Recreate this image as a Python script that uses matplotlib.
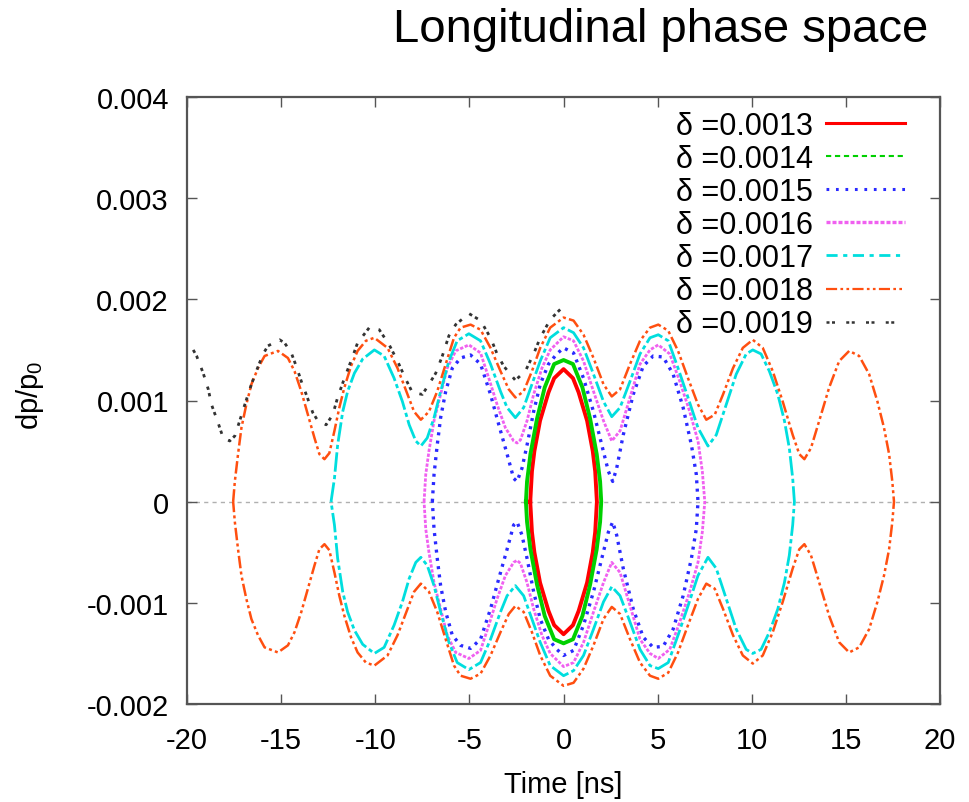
import matplotlib
matplotlib.use("Agg")
import matplotlib.pyplot as plt
import numpy as np
from matplotlib.lines import Line2D

plt.rcParams['font.family'] = ['Liberation Sans', 'DejaVu Sans']
plt.rcParams['mathtext.default'] = 'regular'

# ---- data (upper half of each contour, dp/p0 in units of 1e-3; lower half is the mirror image) ----
labels = ["δ =0.0013", "δ =0.0014", "δ =0.0015", "δ =0.0016",
          "δ =0.0017", "δ =0.0018", "δ =0.0019"]

t_0013 = [-1.77, -1.68, -1.55, -1.25, -0.8, -0.5, 0, 0.5, 0.8, 1.25, 1.55, 1.68, 1.77]
v_0013 = [0, 0.30, 0.50, 0.80, 1.08, 1.22, 1.31, 1.22, 1.08, 0.80, 0.50, 0.30, 0]

t_0014 = [-2.0, -1.94, -1.76, -1.41, -1.0, -0.5, 0, 0.5, 1.0, 1.41, 1.76, 1.94, 2.0]
v_0014 = [0, 0.20, 0.47, 0.82, 1.13, 1.36, 1.40, 1.36, 1.13, 0.82, 0.47, 0.20, 0]

t_0015 = [-6.97, -6.88, -6.71, -6.53, -6.26, -5.91, -5.47, -4.94, -4.41, -3.88, -3.44,
          -3.0, -2.65, -2.47, -2.21, -1.94, -1.59, -1.24, -0.8, -0.36, 0, 0.53, 1.06,
          1.59, 2.03, 2.38, 2.61, 2.82, 3.17, 3.7, 4.23, 4.76, 5.29, 5.82, 6.35, 6.79,
          7.05, 7.14]
v_0015 = [0, 0.27, 0.56, 0.83, 1.09, 1.32, 1.42, 1.45, 1.36, 1.06, 0.76, 0.47, 0.23,
          0.20, 0.33, 0.56, 0.89, 1.16, 1.36, 1.46, 1.52, 1.47, 1.22, 0.89, 0.56, 0.30,
          0.20, 0.33, 0.66, 1.06, 1.34, 1.44, 1.43, 1.26, 0.93, 0.56, 0.27, 0]

t_0016 = [-7.41, -7.32, -7.15, -6.88, -6.53, -6.18, -5.73, -5.03, -4.41, -3.97, -3.53,
          -3.09, -2.65, -2.47, -2.29, -1.94, -1.59, -1.15, -0.71, 0, 0.53, 1.06, 1.59,
          2.12, 2.56, 3.0, 3.53, 4.06, 4.59, 5.03, 5.64, 6.17, 6.7, 7.14, 7.37, 7.5]
v_0016 = [0, 0.27, 0.50, 0.80, 1.06, 1.32, 1.49, 1.55, 1.47, 1.22, 0.96, 0.73, 0.60,
          0.58, 0.61, 0.80, 1.06, 1.32, 1.50, 1.63, 1.59, 1.39, 1.09, 0.80, 0.60, 0.70,
          1.03, 1.36, 1.50, 1.55, 1.46, 1.19, 0.89, 0.60, 0.30, 0]

t_0017 = [-12.35, -12.17, -12.0, -11.73, -11.47, -11.11, -10.67, -10.05, -9.53, -9.0,
          -8.56, -8.2, -7.85, -7.58, -7.24, -6.88, -6.53, -6.09, -5.65, -5.03, -4.41,
          -3.88, -3.35, -3.0, -2.56, -2.12, -1.68, -1.24, -0.71, 0, 0.53, 1.06, 1.59,
          2.12, 2.56, 3.0, 3.53, 4.06, 4.59, 5.03, 5.56, 6.08, 6.61, 7.14, 7.67, 8.11,
          8.64, 9.17, 9.7, 10.05, 10.49, 10.93, 11.38, 11.73, 11.99, 12.17, 12.26]
v_0017 = [0, 0.23, 0.56, 0.89, 1.09, 1.27, 1.41, 1.50, 1.44, 1.22, 0.99, 0.76, 0.60,
          0.55, 0.63, 0.83, 1.09, 1.39, 1.59, 1.66, 1.59, 1.36, 1.09, 0.93, 0.83, 0.93,
          1.16, 1.39, 1.62, 1.72, 1.67, 1.52, 1.26, 0.99, 0.84, 0.93, 1.19, 1.46, 1.62,
          1.65, 1.59, 1.32, 1.03, 0.73, 0.55, 0.66, 0.96, 1.26, 1.46, 1.50, 1.46, 1.29,
          1.06, 0.80, 0.53, 0.23, 0]

t_0018 = [-17.55, -17.46, -17.29, -17.11, -16.85, -16.58, -16.23, -15.88, -15.17, -14.64,
          -14.29, -13.93, -13.58, -13.23, -12.97, -12.7, -12.44, -12.17, -11.91, -11.64,
          -11.29, -10.94, -10.5, -10.05, -9.35, -8.82, -8.29, -7.94, -7.58, -7.15, -6.71,
          -6.26, -5.82, -5.47, -4.94, -4.41, -3.88, -3.35, -2.91, -2.56, -2.12, -1.68,
          -1.24, -0.71, 0, 0.53, 1.06, 1.59, 2.12, 2.56, 3.0, 3.53, 4.06, 4.59, 5.03,
          5.56, 6.08, 6.61, 7.14, 7.58, 8.03, 8.47, 9.0, 9.52, 10.05, 10.58, 11.11, 11.64,
          12.17, 12.52, 12.79, 13.14, 13.58, 14.11, 14.64, 15.17, 15.7, 16.23, 16.67,
          17.02, 17.29, 17.46, 17.55]
v_0018 = [0, 0.20, 0.47, 0.73, 0.96, 1.16, 1.32, 1.44, 1.49, 1.42, 1.29, 1.09, 0.86,
          0.63, 0.47, 0.42, 0.48, 0.70, 0.93, 1.13, 1.34, 1.49, 1.59, 1.62, 1.52, 1.32,
          1.06, 0.89, 0.81, 0.89, 1.09, 1.36, 1.62, 1.72, 1.75, 1.70, 1.52, 1.29, 1.11,
          1.03, 1.09, 1.29, 1.52, 1.72, 1.82, 1.79, 1.65, 1.42, 1.16, 1.04, 1.11, 1.36,
          1.59, 1.72, 1.75, 1.69, 1.49, 1.22, 0.96, 0.81, 0.86, 1.06, 1.32, 1.52, 1.60,
          1.52, 1.29, 0.99, 0.66, 0.47, 0.42, 0.53, 0.80, 1.13, 1.39, 1.49, 1.44, 1.26,
          0.99, 0.73, 0.47, 0.20, 0]

# open trajectory (upper branch only)
t_0019 = [-19.67, -19.49, -19.14, -18.87, -18.7, -18.35, -18.08, -17.73, -17.46, -17.2,
          -16.93, -16.58, -16.32, -15.96, -15.7, -15.08, -14.82, -14.46, -14.2, -13.93,
          -13.67, -13.32, -13.05, -12.61, -12.26, -12.0, -11.64, -11.29, -10.94, -10.32,
          -9.79, -9.26, -8.82, -8.38, -8.03, -7.5, -7.15, -6.79, -6.44, -6.09, -5.73,
          -5.03, -4.41, -3.88, -3.53, -3.18, -2.56, -2.03, -1.59, -1.24, -0.71, -0.18, 0.05]
v_0019 = [1.50, 1.44, 1.27, 1.11, 0.96, 0.78, 0.63, 0.60, 0.65, 0.80, 0.96, 1.16, 1.29,
          1.46, 1.54, 1.60, 1.57, 1.47, 1.34, 1.19, 1.06, 0.88, 0.80, 0.76, 0.86, 1.03,
          1.22, 1.39, 1.57, 1.72, 1.70, 1.55, 1.39, 1.21, 1.08, 1.06, 1.16, 1.27, 1.44,
          1.64, 1.75, 1.86, 1.79, 1.62, 1.46, 1.34, 1.20, 1.29, 1.46, 1.62, 1.80, 1.90, 1.92]

x_ticks = [-20, -15, -10, -5, 0, 5, 10, 15, 20]
y_ticks = [-0.002, -0.001, 0, 0.001, 0.002, 0.003, 0.004]
y_ticklabels = ["-0.002", "-0.001", "0", "0.001", "0.002", "0.003", "0.004"]

# ---- styles ----
colors = ["#ff0000", "#00d000", "#2a2aff", "#f060f0", "#00dede", "#ff4f10", "#333333"]
plot_styles = ["-", "-", (0, (0.9, 1.6)), (0, (1.2, 0.6)), (0, (7, 1.2, 1.5, 1.2)),
               (0, (5, 1.3, 1.2, 1.3, 1.2, 1.3)), (0, (1.2, 1.2, 1.2, 3.5))]
plot_widths = [2.8, 2.8, 2.4, 2.0, 2.0, 1.8, 2.0]
leg_styles = ["-", (0, (2.5, 1.8)), (0, (0.9, 2.2)), (0, (1.2, 0.6)), (0, (4, 2, 1.5, 2)),
              (0, (5, 1.5, 1.2, 1.5, 1.2, 1.5)), (0, (1.2, 1.0, 1.2, 4.5))]
leg_widths = [2.2, 1.5, 2.2, 2.4, 2.0, 1.6, 1.8]

fig = plt.figure(figsize=(9.7, 8.03), dpi=100)
ax = fig.add_axes([0.1928, 0.122, 0.7764, 0.756])

ax.axhline(0, color="#b0b0b0", lw=1.0, ls=(0, (3, 3)), zorder=0)

closed = [(t_0013, v_0013), (t_0014, v_0014), (t_0015, v_0015), (t_0016, v_0016),
          (t_0017, v_0017), (t_0018, v_0018)]
for i, (t, v) in enumerate(closed):
    t = np.asarray(t, float)
    v = np.asarray(v, float) * 1e-3
    xs = np.concatenate([t, t[::-1]])
    ys = np.concatenate([v, -v[::-1]])
    ax.plot(xs, ys, color=colors[i], ls=plot_styles[i], lw=plot_widths[i],
            solid_joinstyle='round')

ax.plot(np.asarray(t_0019), np.asarray(v_0019) * 1e-3, color=colors[6],
        ls=plot_styles[6], lw=plot_widths[6])

ax.set_xlim(-20, 20)
ax.set_ylim(-0.002, 0.004)
ax.set_xticks(x_ticks)
ax.set_xticklabels([str(v) for v in x_ticks])
ax.set_yticks(y_ticks)
ax.set_yticklabels(y_ticklabels)
ax.tick_params(direction='in', length=7, width=1.0, labelsize=21, color="#555555",
               top=True, right=True)
ax.tick_params(axis='x', pad=16)
ax.tick_params(axis='y', pad=13)
for s in ax.spines.values():
    s.set_color("#555555")
    s.set_linewidth(1.6)

ax.set_xlabel("Time [ns]", fontsize=21)
ax.set_ylabel("dp/p$_0$", fontsize=21)
ax.xaxis.label.set_va('center')
ax.yaxis.label.set_va('center')
ax.xaxis.set_label_coords(0.5, -0.132)
ax.yaxis.set_label_coords(-0.2085, 0.51)

handles = [Line2D([0], [0], color=colors[i], ls=leg_styles[i], lw=leg_widths[i])
           for i in range(7)]
ax.legend(handles, labels, loc='upper right', bbox_to_anchor=(0.9535, 0.977),
          frameon=False, markerfirst=False,
          fontsize=22, handlelength=2.6, handletextpad=0.42, labelspacing=0.10,
          borderaxespad=0.0, borderpad=0.0)

fig.text(0.957, 0.963, "Longitudinal phase space", ha='right', va='center', fontsize=34)

fig.savefig("out.png", dpi=100)
